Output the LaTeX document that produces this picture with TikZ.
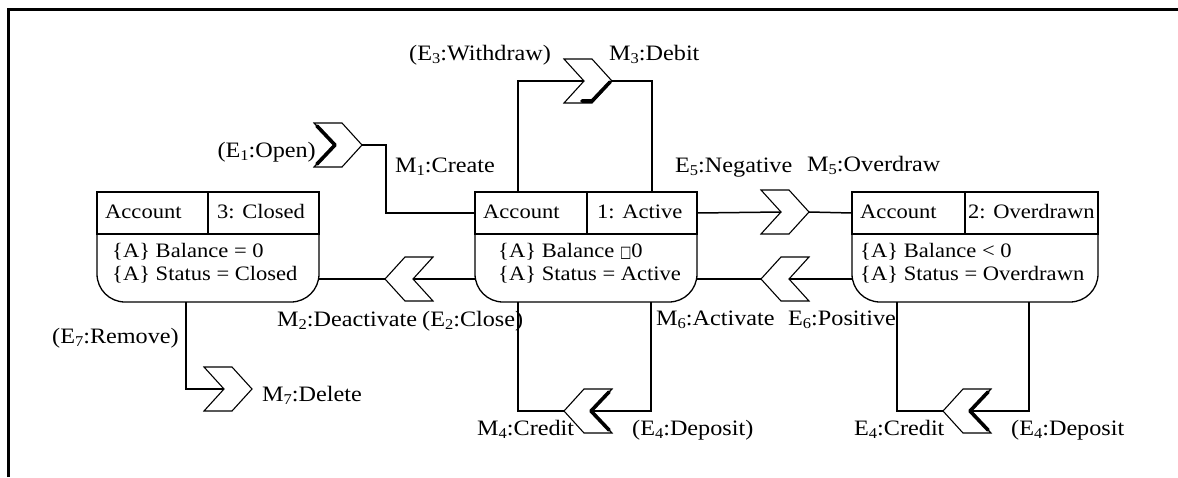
\documentclass[tikz,border=0pt]{standalone}
\usepackage{fontspec}
\usepackage{graphicx}
\setmainfont{Liberation Serif}[FakeStretch=1.1]
\newfontfamily\dejavu{DejaVu Sans}
\newcommand{\sbx}[1]{\raisebox{-0.35ex}{\fontsize{15}{15}\selectfont #1}}
\newcommand{\missglyph}{{\dejavu\fontsize{16}{16}\selectfont\scalebox{0.75}[1]{□}}}
\tikzset{
  conn/.style={line width=1.5pt},
  chevline/.style={line width=1.1pt, line join=miter, fill=white},
  shadowline/.style={line width=3.6pt, line cap=round, line join=round},
  boxline/.style={line width=1.3pt},
  lbl/.style={inner sep=0pt, anchor=base west, font=\fontsize{22}{24}\selectfont},
  lble/.style={lbl, anchor=base east},
  btxt/.style={inner sep=0pt, anchor=base west, font=\fontsize{20.5}{23}\selectfont},
  pics/chev/.style={code={
     \draw[chevline] (-24,-22) -- (4,-22) -- (24,0) -- (4,22) -- (-24,22) -- (-4,0) -- cycle;
     \coordinate (-tip) at (24,0);
     \coordinate (-notch) at (-4,0);}},
  pics/chevB/.style={code={
     \draw[chevline] (-24,-22) -- (4,-22) -- (24,0) -- (4,22) -- (-24,22) -- (-4,0) -- cycle;
     \draw[shadowline] (-21,-19) -- (-3,0) -- (-21,19);
     \coordinate (-tip) at (24,0);
     \coordinate (-notch) at (-4,0);}},
  pics/chevF/.style={code={
     \draw[chevline] (-24,-22) -- (4,-22) -- (24,0) -- (4,22) -- (-24,22) -- (-4,0) -- cycle;
     \draw[shadowline] (22,1) -- (4,20) -- (-6,20);
     \coordinate (-tip) at (24,0);
     \coordinate (-notch) at (-4,0);}}
}
% name, L, R, D, state, state x, body x, line1, line2
\newcommand{\stbox}[9]{%
  \node[inner sep=0pt, minimum width={#3-#2}, minimum height=110, anchor=north west] (#1) at (#2,192) {};
  \draw[boxline] (#2,192) rectangle (#3,234);
  \draw[boxline] (#4,192) -- (#4,234);
  \draw[boxline] (#2,234) -- (#2,274) arc[start angle=180, end angle=90, radius=28]
     -- ({#3-28},302) arc[start angle=90, end angle=0, radius=28] -- (#3,234);
  \node[btxt] (#1-title) at ({#2+8},218) {Account};
  \node[btxt] (#1-state) at (#6,218) {#5};
  \node[btxt] (#1-l1) at (#7,257) {#8};
  \node[btxt] (#1-l2) at (#7,280) {#9};
  \coordinate (#1-hw) at (#2,213);
  \coordinate (#1-he) at (#3,213);
  \coordinate (#1-bw) at (#2,279);
  \coordinate (#1-be) at (#3,279);
}
\begin{document}
\begin{tikzpicture}[x=1pt,y=-1pt]
\useasboundingbox (0,0) rectangle (1178,477);
\draw[line width=3pt] (8.5,477) -- (8.5,9.5) -- (1178,9.5);

\stbox{cls}{97}{319}{208}{3: Closed}{217}{112}{\{A\} Balance = 0}{\{A\} Status = Closed}
\stbox{act}{475}{697}{587}{1: Active}{597}{498}{\{A\} Balance \missglyph0}{\{A\} Status = Active}
\stbox{ovd}{852}{1098}{965}{2: Overdrawn}{968}{860}{\{A\} Balance < 0}{\{A\} Status = Overdrawn}

\coordinate (actT1) at (518,192);
\coordinate (actT2) at (652,192);
\coordinate (actB1) at (518,302);
\coordinate (actB2) at (651,302);
\coordinate (ovdB1) at (897,302);
\coordinate (ovdB2) at (1029,302);
\coordinate (clsB) at (186,302);

% chevrons
\pic (e1) at (338,145) {chevB};
\pic (e3) at (588,81) {chevF};
\pic (e5) at (785,212) {chev};
\pic[xscale=-1] (e6) at (785,279) {chev};
\pic[xscale=-1] (e2) at (409,279) {chev};
\pic[xscale=-1] (e4a) at (588,411) {chevB};
\pic[xscale=-1] (e4b) at (967,411) {chevB};
\pic (e7) at (228,389) {chev};

% connectors
\draw[conn] (e1-tip) -- (386,145) |- (act-hw);
\draw[conn] (actT1) |- (e3-notch);
\draw[conn] (e3-tip) -| (actT2);
\draw[conn] (act-he) -- (e5-notch);
\draw[conn] (e5-tip) -- (ovd-hw);
\draw[conn] (ovd-bw) -- (e6-notch);
\draw[conn] (e6-tip) -- (act-be);
\draw[conn] (act-bw) -- (e2-notch);
\draw[conn] (e2-tip) -- (cls-be);
\draw[conn] (actB2) |- (e4a-notch);
\draw[conn] (e4a-tip) -| (actB1);
\draw[conn] (ovdB2) |- (e4b-notch);
\draw[conn] (e4b-tip) -| (ovdB1);
\draw[conn] (clsB) |- (e7-notch);

% labels
\node[lble] (l1) at (316,157) {(E\sbx{1}:Open)};
\node[lbl] (l2) at (395,172) {M\sbx{1}:Create};
\node[lbl] (l3) at (409,60) {(E\sbx{3}:Withdraw)};
\node[lbl] (l4) at (609,60) {M\sbx{3}:Debit};
\node[lbl] (l5) at (675,172) {E\sbx{5}:Negative};
\node[lbl] (l6) at (807,171) {M\sbx{5}:Overdraw};
\node[lbl] (l7) at (277,326) {M\sbx{2}:Deactivate};
\node[lbl] (l8) at (422,326) {(E\sbx{2}:Close)};
\node[lbl] (l9) at (656,325) {M\sbx{6}:Activate};
\node[lbl] (l10) at (788,325) {E\sbx{6}:Positive};
\node[lbl] (l11) at (477,435) {M\sbx{4}:Credit};
\node[lbl] (l12) at (632,435) {(E\sbx{4}:Deposit)};
\node[lbl] (l13) at (854,435) {E\sbx{4}:Credit};
\node[lbl] (l14) at (1011,435) {(E\sbx{4}:Deposit};
\node[lbl] (l15) at (52,343) {(E\sbx{7}:Remove)};
\node[lbl] (l16) at (262,401) {M\sbx{7}:Delete};
\end{tikzpicture}
\end{document}
